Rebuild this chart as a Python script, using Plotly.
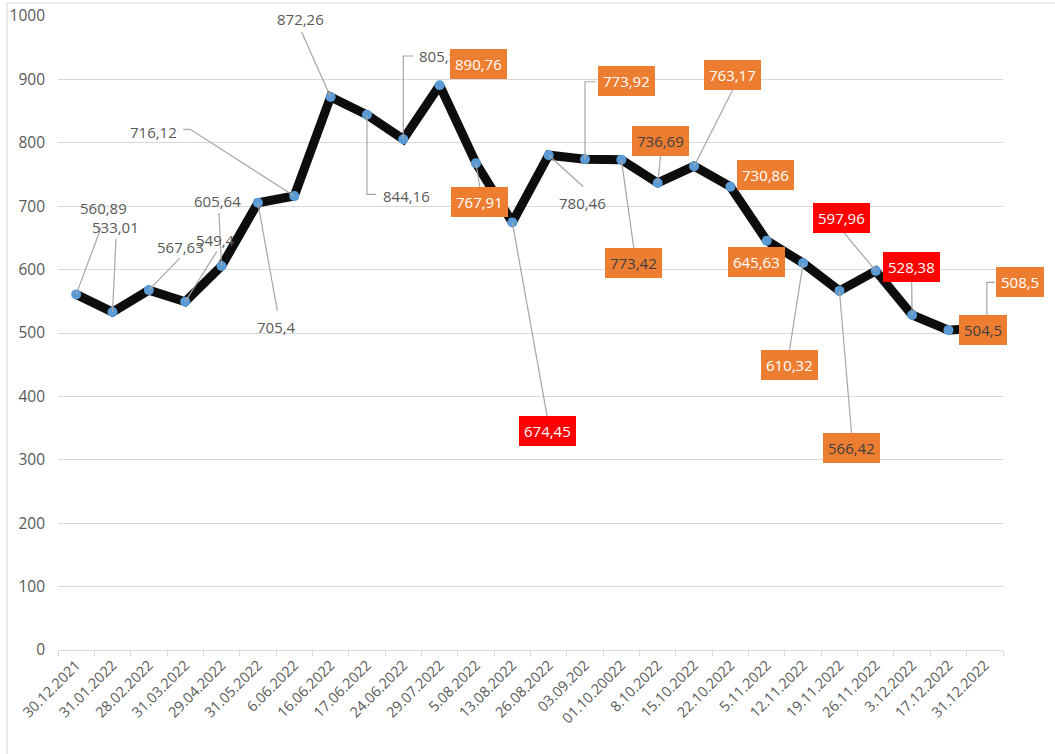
import plotly.graph_objects as go

# category labels (dates as written in the source chart)
dates = ['30.12.2021', '31.01.2022', '28.02.2022', '31.03.2022', '29.04.2022',
         '31.05.2022', '6.06.2022', '16.06.2022', '17.06.2022', '24.06.2022',
         '29.07.2022', '5.08.2022', '13.08.2022', '26.08.2022', '03.09.202',
         '01.10.20022', '8.10.2022', '15.10.2022', '22.10.2022', '5.11.2022',
         '12.11.2022', '19.11.2022', '26.11.2022', '3.12.2022', '17.12.2022',
         '31.12.2022']

values = [560.89, 533.01, 567.63, 549.4, 605.64, 705.4, 716.12, 872.26, 844.16,
          805.5, 890.76, 767.91, 674.45, 780.46, 773.92, 773.42, 736.69, 763.17,
          730.86, 645.63, 610.32, 566.42, 597.96, 528.38, 504.5, 508.5]

# how each data label is styled
label_style = ['plain', 'plain', 'plain', 'plain', 'plain', 'plain', 'plain',
               'plain', 'plain', 'plain', 'orange', 'orange', 'red', 'plain',
               'orange', 'orange_dark', 'orange_dark', 'orange', 'orange',
               'orange', 'orange', 'orange_dark', 'red', 'red', 'orange_dark',
               'orange']

# label placement: (dx, dy) offset of label centre from its point in px (dy up),
# and leader line path in px relative to the point
label_pos = [
    ((27, 86), [(0, 0), (25, 67)]),
    ((3, 85), [(0, 0), (3.5, 73)]),
    ((32, 43), [(0, 0), (31, 32)]),
    ((30, 62), [(0, 0), (31.5, 50)]),
    ((-4, 65), [(0, 0), (-2.6, 53)]),
    ((19, -124), [(0, 0), (19.4, -108)]),
    ((-141, 64), [(0, 0), (-104, 66.7), (-111, 66.7)]),
    ((-30, 78), [(0, 0), (-29, 65)]),
    ((40, -81), [(0, 0), (0, -79.5), (9, -79.5)]),
    ((35, 83), [(0, 0), (0, 83.3), (10, 83.3)]),
    ((39, 21), None),
    ((4, -39), [(0, 0), (4, -25)]),
    ((35, -209), [(0, 0), (35, -195)]),
    ((34, -48), [(0, 0), (34.6, -31.5)]),
    ((41, 78), [(0, 0), (0, 77.6), (10.7, 77.6)]),
    ((12, -103), [(0, 0), (12.6, -89.4)]),
    ((3, 42), [(0, 0), (3, 29)]),
    ((38, 91), [(0, 0), (39, 77)]),
    ((35, 12), None),
    ((-10, -21), None),
    ((-14, -102), [(0, 0), (-13.8, -88.6)]),
    ((12, -157), [(0, 0), (12.2, -143.4)]),
    ((-34, 53), [(0, 0), (-32.5, 39)]),
    ((-0.5, 48), [(0, 0), (-0.5, 34)]),
    ((35, 0), None),
    ((35, 46), [(2, 0), (2, 45.3), (10.2, 45.3)]),
]

GRAY_TXT = '#595959'
GRID = '#D9D9D9'
LEADER = '#A6A6A6'
FONT = 'Open Sans, Segoe UI, sans-serif'

fig = go.Figure()
fig.add_trace(go.Scatter(
    x=dates, y=values, mode='lines+markers',
    line=dict(color='#0D0D0D', width=9),
    marker=dict(color='#5B9BD5', size=10, line=dict(width=0)),
    hoverinfo='x+y', showlegend=False
))

box_styles = {
    'plain': dict(bgcolor='rgba(0,0,0,0)', color=GRAY_TXT),
    'orange': dict(bgcolor='#ED7D31', color='#FFFFFF'),
    'orange_dark': dict(bgcolor='#ED7D31', color='#404040'),
    'red': dict(bgcolor='#FF0000', color='#FFFFFF'),
}

shapes = []
annotations = []
for d, v, st, (off, path) in zip(dates, values, label_style, label_pos):
    if path:
        p = 'M {} {}'.format(*path[0]) + ''.join(' L {} {}'.format(*q) for q in path[1:])
        shapes.append(dict(type='path', xref='x', yref='y', xsizemode='pixel',
                           ysizemode='pixel', xanchor=d, yanchor=v, path=p,
                           line=dict(color=LEADER, width=1.2)))
    s = box_styles[st]
    annotations.append(dict(
        x=d, y=v, xref='x', yref='y', showarrow=False,
        text=('%g' % v).replace('.', ','),
        xshift=off[0], yshift=off[1], xanchor='center', yanchor='middle',
        bgcolor=s['bgcolor'], borderpad=5, borderwidth=0,
        font=dict(family=FONT, size=15, color=s['color'])
    ))

# chart frame
shapes.append(dict(type='rect', xref='paper', yref='paper', x0=-0.054, x1=1.06,
                   y0=-0.1735, y1=1.0205, line=dict(color=GRID, width=1),
                   layer='below'))

fig.update_layout(
    width=1055, height=754,
    margin=dict(l=58, r=52, t=16, b=104, autoexpand=False),
    paper_bgcolor='white', plot_bgcolor='white',
    font=dict(family=FONT, color=GRAY_TXT),
    shapes=shapes, annotations=annotations,
    xaxis=dict(type='category', range=[-0.5, len(dates) - 0.5],
               showline=True, linecolor=GRID, linewidth=1,
               ticks='outside', tickson='boundaries', ticklen=5,
               tickcolor=GRID, tickangle=-45, showgrid=False, automargin=False,
               tickfont=dict(family=FONT, size=14.5, color=GRAY_TXT)),
    yaxis=dict(range=[0, 1000], dtick=100, showgrid=True, gridcolor=GRID,
               gridwidth=1, zeroline=False, showline=False, automargin=False,
               ticklabelstandoff=12,
               tickfont=dict(family=FONT, size=15.5, color=GRAY_TXT)),
)

fig.write_html('out.html', config={'displayModeBar': False},
               post_script="document.body.style.margin='0px';")
